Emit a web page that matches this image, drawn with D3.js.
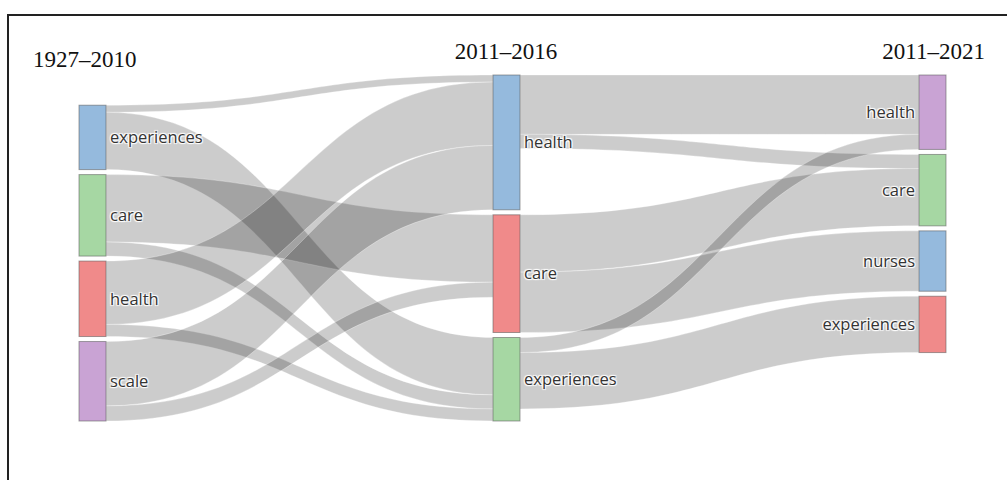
<!DOCTYPE html>
<html>
<head>
<meta charset="utf-8">
<script src="https://cdn.jsdelivr.net/npm/d3@7"></script>
<style>
  html, body { margin: 0; padding: 0; background: #fff; }
  svg { display: block; }
  .lbl { font-family: "Open Sans", sans-serif; font-size: 16.5px; fill: #333;
         text-shadow: 1px 1px 1px #fff, 1px -1px 1px #fff, -1px 1px 1px #fff, -1px -1px 1px #fff; }
  .ttl { font-family: "Liberation Serif", "Times New Roman", serif; font-size: 23px; fill: #111; }
</style>
</head>
<body>
<svg id="chart" width="1007" height="480"></svg>
<script>
// ---- data ----
const columnTitles = ["1927–2010", "2011–2016", "2011–2021"];
const column1 = ["experiences", "care", "health", "scale"];
const column2 = ["health", "care", "experiences"];
const column3 = ["health", "care", "nurses", "experiences"];
const nodeColors1 = ["#95badd", "#a6d7a3", "#f08a8a", "#c9a3d4"];
const nodeColors2 = ["#95badd", "#f08a8a", "#a6d7a3"];
const nodeColors3 = ["#c9a3d4", "#a6d7a3", "#95badd", "#f08a8a"];

// links column1 -> column2
const sources12 = ["experiences", "experiences", "care", "care", "health", "health", "scale", "scale"];
const targets12 = ["health", "experiences", "care", "experiences", "health", "experiences", "health", "care"];
const values12  = [7, 57, 67, 14, 63, 12, 64, 15];
// links column2 -> column3
const sources23 = ["health", "health", "care", "care", "experiences", "experiences"];
const targets23 = ["health", "care", "care", "nurses", "health", "experiences"];
const values23  = [59, 14, 57, 60, 15, 56];

// ---- layout ----
(function () {
const W = 1007, H = 480;
const yTop = 75, yBottom = 421, nodeW = 27, pad = 5;
const colAlign = ["bottom", "top", "top"];
const svg = d3.select("#chart");

const columns = [column1, column2, column3];
const colors = [nodeColors1, nodeColors2, nodeColors3];
const nodes = [];
const byKey = {};
columns.forEach((col, c) => col.forEach((name, i) => {
  const n = { name, col: c, idx: i, color: colors[c][i], inV: 0, outV: 0, sourceLinks: [], targetLinks: [] };
  nodes.push(n); byKey[c + ":" + name] = n;
}));
const links = [];
function addLinks(srcs, tgts, vals, c) {
  srcs.forEach((s, i) => {
    const l = { source: byKey[c + ":" + s], target: byKey[(c + 1) + ":" + tgts[i]], value: vals[i] };
    l.source.outV += l.value; l.target.inV += l.value;
    l.source.sourceLinks.push(l); l.target.targetLinks.push(l);
    links.push(l);
  });
}
addLinks(sources12, targets12, values12, 0);
addLinks(sources23, targets23, values23, 1);
nodes.forEach(n => n.value = Math.max(n.inV, n.outV));

const colTotals = columns.map((col, c) => d3.sum(nodes.filter(n => n.col === c), n => n.value));
let kyMin = Infinity;
columns.forEach((col, c) => {
  const k = (yBottom - yTop - (col.length - 1) * pad) / colTotals[c];
  kyMin = Math.min(kyMin, k);
});
const yScale = d3.scaleLinear().domain([0, 1]).range([0, kyMin]);
const xScale = d3.scaleLinear().domain([0, 1, 2]).range([79, 493, 919]);

columns.forEach((col, c) => {
  const colNodes = nodes.filter(n => n.col === c);
  const span = d3.sum(colNodes, n => yScale(n.value)) + (colNodes.length - 1) * pad;
  let y = colAlign[c] === "top" ? yTop : yBottom - span;
  colNodes.forEach(n => {
    n.x0 = xScale(c); n.x1 = n.x0 + nodeW;
    n.y0 = y; n.y1 = y + yScale(n.value);
    y = n.y1 + pad;
  });
});
nodes.forEach(n => {
  let y = n.y0;
  n.sourceLinks.slice().sort((a, b) => a.target.y0 - b.target.y0).forEach(l => {
    l.sy0 = y; y += yScale(l.value); l.sy1 = y;
  });
  y = n.y0;
  n.targetLinks.slice().sort((a, b) => a.source.y0 - b.source.y0).forEach(l => {
    l.ty0 = y; y += yScale(l.value); l.ty1 = y;
  });
});

// ---- frame ----
svg.append("line").attr("x1", 8).attr("x2", W).attr("y1", 15).attr("y2", 15)
  .attr("stroke", "#222").attr("stroke-width", 2);
svg.append("line").attr("x1", 8).attr("x2", 8).attr("y1", 14).attr("y2", H)
  .attr("stroke", "#222").attr("stroke-width", 2);

// ---- links ----
function bandPath(l) {
  const x0 = l.source.x1, x1 = l.target.x0, xm = (x0 + x1) / 2;
  return `M${x0},${l.sy0}C${xm},${l.sy0} ${xm},${l.ty0} ${x1},${l.ty0}` +
         `L${x1},${l.ty1}C${xm},${l.ty1} ${xm},${l.sy1} ${x0},${l.sy1}Z`;
}
svg.append("g").selectAll("path").data(links).join("path")
  .attr("d", bandPath)
  .attr("fill", "rgba(0,0,0,0.2)")
  .attr("stroke", "rgba(255,255,255,0.6)")
  .attr("stroke-width", 0.5);

// ---- nodes ----
svg.append("g").selectAll("rect").data(nodes).join("rect")
  .attr("x", d => d.x0).attr("y", d => d.y0)
  .attr("width", nodeW).attr("height", d => d.y1 - d.y0)
  .attr("fill", d => d.color)
  .attr("stroke", "rgba(90,90,90,0.55)").attr("stroke-width", 1);

// ---- labels ----
svg.append("g").selectAll("text").data(nodes).join("text")
  .attr("class", "lbl")
  .attr("x", d => d.col === 2 ? d.x0 - 4 : d.x1 + 4)
  .attr("y", d => (d.y0 + d.y1) / 2)
  .attr("dy", "0.35em")
  .attr("text-anchor", d => d.col === 2 ? "end" : "start")
  .text(d => d.name);

// ---- column titles ----
const titleX = [33, 506, 985];
const titleY = [67, 59, 59];
const titleAnchor = ["start", "middle", "end"];
svg.append("g").selectAll("text").data(columnTitles).join("text")
  .attr("class", "ttl")
  .attr("x", (d, i) => titleX[i]).attr("y", (d, i) => titleY[i])
  .attr("text-anchor", (d, i) => titleAnchor[i])
  .text(d => d);
})();
</script>
</body>
</html>
